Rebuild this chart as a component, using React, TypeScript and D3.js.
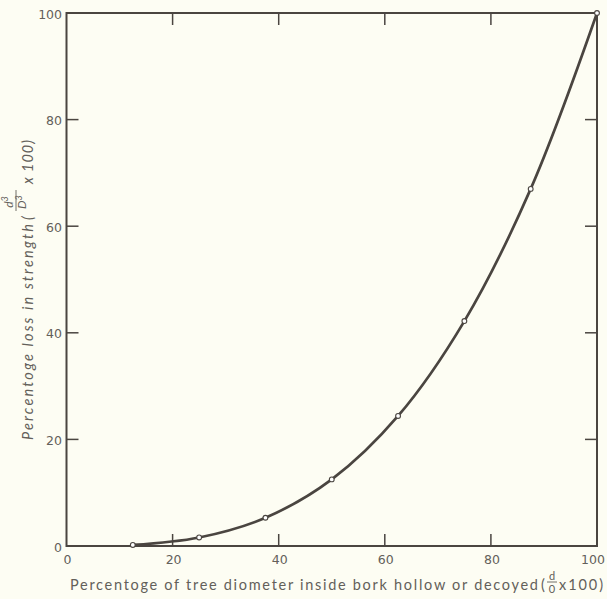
import React from "react";
import * as d3 from "d3";

// Diameter of hollow/decay as a percentage of tree diameter, and the resulting strength loss
const pctDiameter = [12.5, 25, 37.5, 50, 62.5, 75, 87.5, 100];
const pctLoss = [0.2, 1.6, 5.3, 12.5, 24.4, 42.2, 67.0, 100];

const xTicks = [0, 20, 40, 60, 80, 100];
const yTicks = [0, 20, 40, 60, 80, 100];
const innerTicks = [20, 40, 60, 80];

const W = 607;
const H = 599;
const INK = "#4a4540";
const TEXT = "#63605a";
const BG = "#fdfdf3";
const FONT = "Lato, 'DejaVu Sans', sans-serif";
const TICK_FONT = "'DejaVu Sans', sans-serif";

export default function App() {
  const x = d3.scaleLinear().domain([0, 100]).range([66.5, 597]);
  const y = d3.scaleLinear().domain([0, 100]).range([546, 13]);
  const pts: [number, number][] = pctDiameter.map((d, i) => [d, pctLoss[i]]);
  const line = d3
    .line<[number, number]>()
    .x((d) => x(d[0]))
    .y((d) => y(d[1]))
    .curve(d3.curveCatmullRom.alpha(0.5));

  const tickLen = 12;
  const [x0, x1] = x.range();
  const [y0, y1] = y.range();

  return (
    <svg
      width={W}
      height={H}
      style={{ position: "absolute", left: 0, top: 0, background: BG }}
      fontFamily={FONT}
    >
      <rect x={0} y={0} width={W} height={H} fill={BG} />

      {/* frame */}
      <rect x={x0} y={y1} width={x1 - x0} height={y0 - y1} fill="none" stroke={INK} strokeWidth={2} />

      {/* inward ticks on all four sides */}
      {innerTicks.map((t) => (
        <g key={"t" + t} stroke={INK} strokeWidth={1.5}>
          <line x1={x(t)} x2={x(t)} y1={y0} y2={y0 - tickLen} />
          <line x1={x(t)} x2={x(t)} y1={y1} y2={y1 + tickLen} />
          <line x1={x0} x2={x0 + tickLen} y1={y(t)} y2={y(t)} />
          <line x1={x1} x2={x1 - tickLen} y1={y(t)} y2={y(t)} />
        </g>
      ))}

      {/* tick labels */}
      {xTicks.map((t) => (
        <text
          key={"xl" + t}
          x={Math.min(x(t) + 1, 593)}
          y={564}
          textAnchor="middle"
          fontFamily={TICK_FONT}
          fontSize={12.5}
          fill={TEXT}
        >
          {t}
        </text>
      ))}
      {yTicks.map((t) => (
        <text
          key={"yl" + t}
          x={62}
          y={y(t) + 1}
          textAnchor="end"
          dominantBaseline="central"
          fontFamily={TICK_FONT}
          fontSize={12.5}
          fill={TEXT}
        >
          {t}
        </text>
      ))}

      {/* curve and observed points */}
      <path d={line(pts) ?? ""} fill="none" stroke={INK} strokeWidth={2.7} strokeLinecap="round" />
      {pts.map((p, i) => (
        <circle key={"p" + i} cx={x(p[0])} cy={y(p[1])} r={2.4} fill="#ffffff" stroke={INK} strokeWidth={1.1} />
      ))}

      {/* x axis title */}
      <g fill={TEXT} fontSize={14.5}>
        <text x={70} y={590} textLength={468} lengthAdjust="spacing">
          Percentoge of tree diometer inside bork hollow or decoyed
        </text>
        <text x={541} y={590}>(</text>
        <text x={552} y={580} textAnchor="middle" fontSize={11}>d</text>
        <line x1={547} x2={557} y1={582} y2={582} stroke={TEXT} strokeWidth={0.9} />
        <text x={552} y={593} textAnchor="middle" fontSize={11}>0</text>
        <text x={559} y={590} textLength={44} lengthAdjust="spacing">x100)</text>
      </g>

      {/* y axis title, rotated */}
      <g transform="translate(33,440) rotate(-90)" fill={TEXT} fontSize={14.5} fontStyle="italic">
        <text x={0} y={0} textLength={216} lengthAdjust="spacing">
          Percentoge loss in strength
        </text>
        <text x={220} y={0}>(</text>
        <text x={238} y={-20} textAnchor="middle" fontSize={12}>
          d<tspan dy={-5} fontSize={9}>3</tspan>
        </text>
        <line x1={229} x2={250} y1={-17} y2={-17} stroke={TEXT} strokeWidth={0.9} />
        <text x={238} y={-7} textAnchor="middle" fontSize={12}>
          D<tspan dy={-4} fontSize={9}>3</tspan>
        </text>
        <text x={256} y={0} textLength={44} lengthAdjust="spacing">x 100)</text>
      </g>
    </svg>
  );
}
